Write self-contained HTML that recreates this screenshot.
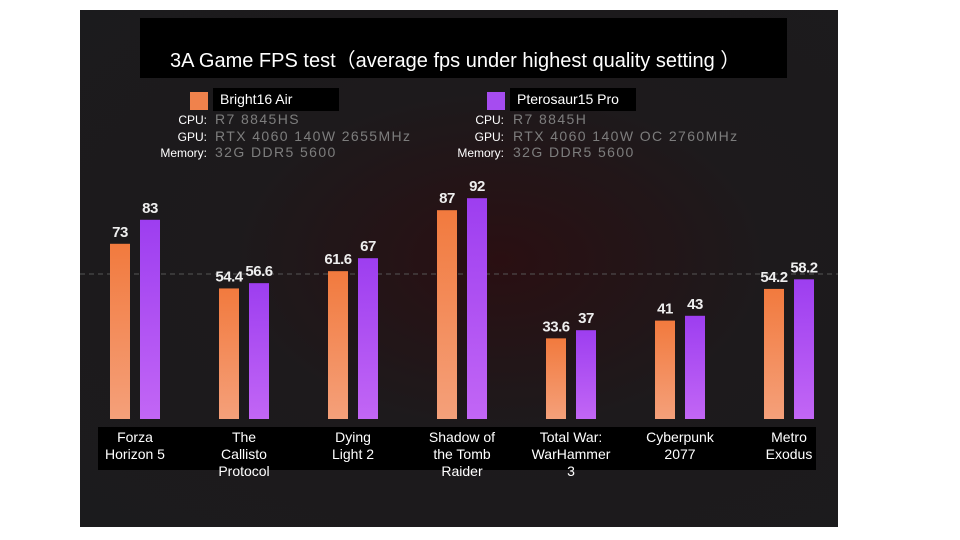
<!DOCTYPE html>
<html><head><meta charset="utf-8"><style>
body{margin:0;width:960px;height:540px;background:#fff;position:relative;overflow:hidden;font-family:"Liberation Sans",Arial,sans-serif}
#panel{position:absolute;left:80px;top:10px;width:758px;height:517px;background:radial-gradient(ellipse at 420px 250px,#2a0f12 0%,#1d1a1c 45%,#1b1b1d 100%)}
.t{position:absolute;color:#fff;white-space:nowrap}
.spec{position:absolute;font-size:12px;line-height:16.5px;color:#fff;text-align:right}
.val{position:absolute;font-size:14px;line-height:16.5px;color:#7d7d7d;letter-spacing:1.4px}
</style></head><body>
<div id="panel"></div>
<div class="t" style="left:140px;top:18px;width:647px;height:60px;background:#000;font-size:20px;line-height:86px;padding-left:30px;box-sizing:border-box">3A Game FPS test（average fps under highest quality setting ）</div>
<div style="position:absolute;left:190px;top:92px;width:18px;height:18px;background:#f0824c"></div>
<div class="t" style="left:213px;top:88px;width:126px;height:23px;background:#000;font-size:14px;line-height:23px;padding-left:7px;box-sizing:border-box">Bright16 Air</div>
<div style="position:absolute;left:487px;top:92px;width:18px;height:18px;background:#a64cf0"></div>
<div class="t" style="left:510px;top:88px;width:126px;height:23px;background:#000;font-size:14px;line-height:23px;padding-left:7px;box-sizing:border-box">Pterosaur15 Pro</div>
<div class="spec" style="left:140px;top:112px;width:67px">CPU:<br>GPU:<br>Memory:</div>
<div class="val" style="left:215px;top:111px">R7 8845HS<br>RTX 4060 140W 2655MHz<br>32G DDR5 5600</div>
<div class="spec" style="left:437px;top:112px;width:67px">CPU:<br>GPU:<br>Memory:</div>
<div class="val" style="left:513px;top:111px">R7 8845H<br>RTX 4060 140W OC 2760MHz<br>32G DDR5 5600</div>
<div style="position:absolute;left:98px;top:427px;width:718px;height:43px;background:#000"></div>
<svg id="chart" width="960" height="540" style="position:absolute;left:0;top:0">
<defs>
<linearGradient id="go" x1="0" y1="0" x2="0" y2="1"><stop offset="0" stop-color="#f27a3e"/><stop offset="1" stop-color="#f4a07a"/></linearGradient>
<linearGradient id="gp" x1="0" y1="0" x2="0" y2="1"><stop offset="0" stop-color="#9d3ef0"/><stop offset="1" stop-color="#c266f5"/></linearGradient>
</defs>
<line x1="80" x2="838" y1="274" y2="274" stroke="#555" stroke-dasharray="5,4" stroke-width="1"/>
</svg>
<script>
const categories=[["Forza","Horizon 5"],["The","Callisto","Protocol"],["Dying","Light 2"],["Shadow of","the Tomb","Raider"],["Total War:","WarHammer","3"],["Cyberpunk","2077"],["Metro","Exodus"]];
const bright16=[73,54.4,61.6,87,33.6,41,54.2];
const pterosaur15=[83,56.6,67,92,37,43,58.2];
const svg=document.getElementById('chart');
const NS='http://www.w3.org/2000/svg';
const base=419, scale=2.4;
function y(v){return base-v*scale;}
function gx(i){return 110+i*109;}
function add(tag,attrs,txt){const e=document.createElementNS(NS,tag);for(const k in attrs)e.setAttribute(k,attrs[k]);if(txt!==undefined)e.textContent=txt;svg.appendChild(e);return e;}
categories.forEach((c,i)=>{
  const x=gx(i);
  [[bright16,'url(#go)',0,'bar-bright16'],[pterosaur15,'url(#gp)',30,'bar-pterosaur15']].forEach(([arr,fill,off,nm])=>{
    const v=arr[i];
    const r=add('rect',{x:x+off,y:y(v),width:20,height:base-y(v),fill:fill});
    
    
    const t=add('text',{x:x+off+10,y:y(v)-7,'text-anchor':'middle',fill:'#eee','font-size':'15','font-weight':'bold','letter-spacing':'-0.5','font-family':'Liberation Sans Narrow,Liberation Sans,sans-serif'},String(v));
    
    
  });
  c.forEach((line,j)=>{
    const t=add('text',{x:x+25,y:442+j*17,'text-anchor':'middle',fill:'#fff','font-size':'14','font-family':'Liberation Sans,sans-serif'},line);
    
    
  });
});
</script>
</body></html>
